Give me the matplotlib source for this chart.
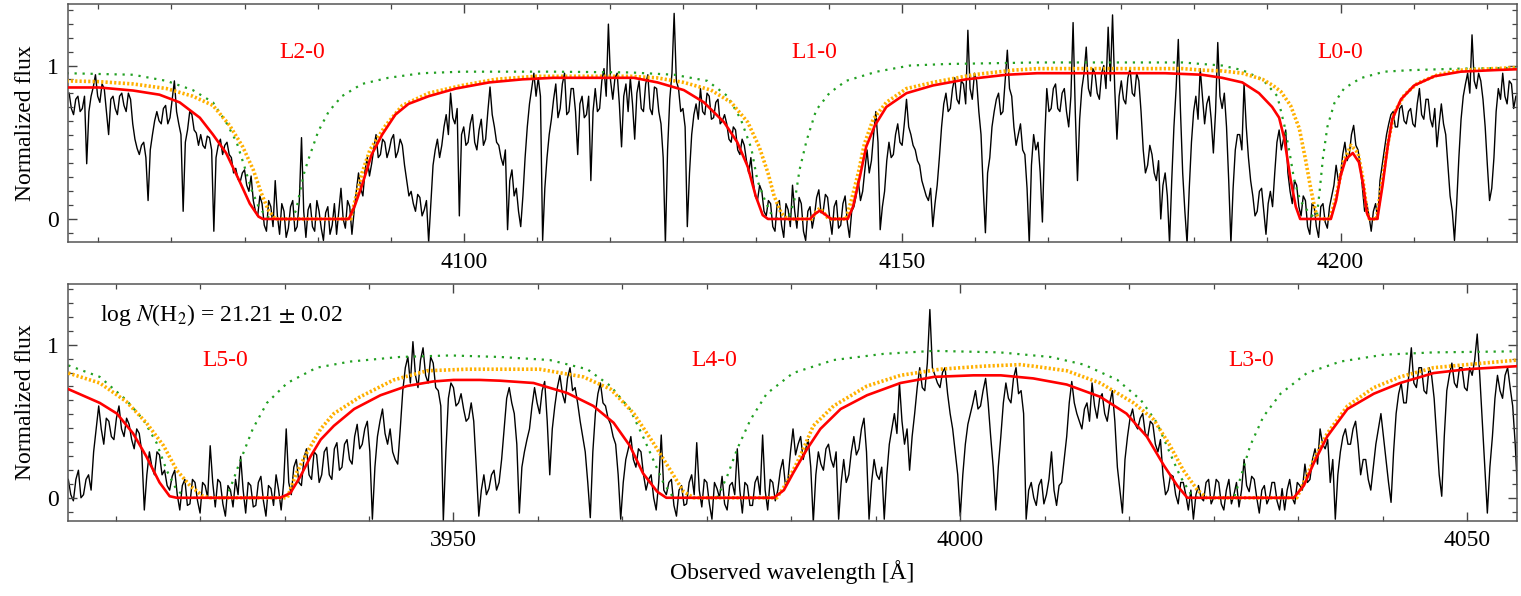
import numpy as np
import matplotlib
matplotlib.use("Agg")
import matplotlib.pyplot as plt
from matplotlib.ticker import MultipleLocator, FixedLocator

plt.rcParams['font.family'] = ['Liberation Serif', 'DejaVu Serif']
plt.rcParams['mathtext.fontset'] = 'stix'

# ---- observed spectrum ----
# *_flux: values at start + 0.5*i ; *_mid: values half way between them
top_start = 4055.0
bot_start = 3912.0
step = 0.5

top_flux = [
    0.82, 0.68, 0.80, 0.72, 0.36, 0.80, 0.94, 0.76, 0.85, 0.55,
    0.80, 0.68, 0.82, 0.70, 0.78, 0.52, 0.42, 0.50, 0.12, 0.55,
    0.70, 0.62, 0.74, 0.66, 0.90, 0.62, 0.05, 0.58, 0.68, 0.56,
    0.55, 0.46, 0.53, -0.08, 0.48, 0.42, 0.50, 0.40, 0.33, 0.24,
    0.32, 0.18, 0.12, 0.02, 0.10, -0.08, 0.08, 0.25, -0.10, 0.05,
    -0.06, 0.12, -0.05, 0.53, -0.12, 0.10, -0.08, 0.05, -0.14, 0.08,
    -0.04, -0.10, 0.20, -0.06, 0.08, 0.05, 0.30, 0.15, 0.40, 0.36,
    0.55, 0.42, 0.50, 0.45, 0.55, 0.44, 0.48, 0.25, 0.18, 0.05,
    0.14, 0.06, -0.15, 0.35, 0.52, 0.48, 0.68, 0.82, 0.62, 0.02,
    0.60, 0.50, 0.68, 0.45, 0.65, 0.52, 0.86, 0.60, 0.48, 0.35,
    -0.07, 0.32, 0.20, -0.05, 0.40, 0.75, 0.95, 0.92, -0.14, 0.40,
    0.65, 0.88, 0.72, 0.95, 0.70, 0.85, 0.42, 0.80, 0.68, 0.25,
    0.85, 0.72, 0.98, 1.27, 0.78, 0.95, 0.47, 0.88, 0.92, 0.52,
    0.90, 0.70, 0.94, 0.68, 0.85, 0.62, -0.16, 0.78, 1.34, 0.85,
    0.72, -0.05, 0.55, 0.75, 0.85, 0.68, 0.80, 0.66, 0.78, 0.64,
    0.62, 0.50, 0.58, 0.42, 0.48, 0.30, 0.25, 0.12, 0.18, 0.02,
    0.10, -0.08, 0.12, -0.12, 0.06, 0.22, -0.06, 0.10, -0.14, 0.08,
    0.02, 0.19, 0.05, 0.14, -0.10, 0.12, -0.04, 0.15, -0.12, 0.08,
    0.25, 0.18, 0.45, 0.38, 0.70, -0.07, 0.18, 0.50, 0.42, 0.62,
    0.48, 0.78, 0.55, 0.45, 0.35, 0.20, 0.12, -0.05, 0.22, 0.60,
    0.82, 0.72, 0.92, 0.75, 0.88, 1.23, 0.78, 0.90, 0.55, -0.09,
    0.40, 0.70, 0.82, 0.70, 1.10, 0.80, 0.48, 0.62, 0.42, -0.16,
    0.55, 0.50, -0.02, 0.85, 0.72, 0.88, 0.70, 0.85, 0.60, 1.28,
    0.25, 0.85, 1.12, 0.80, 0.95, 0.78, 1.00, 1.25, 1.33, 0.52,
    0.90, 0.75, 0.98, 0.80, 0.90, 0.45, 0.35, 0.42, 0.25, 0.00,
    0.30, -0.16, 0.60, 1.17, 0.30, -0.16, 0.50, 0.80, 0.98, 0.62,
    0.80, 0.43, 1.15, 0.72, 0.60, -0.16, 0.45, 0.55, 0.88, 0.40,
    0.15, 0.05, 0.20, -0.10, 0.18, 0.30, 0.58, 0.52, 0.30, 0.10,
    0.22, 0.02, 0.12, -0.10, 0.08, -0.12, 0.10, -0.06, 0.15, 0.35,
    0.28, 0.50, 0.42, 0.61, 0.45, 0.20, 0.10, -0.08, 0.10, 0.25,
    0.45, 0.62, 0.70, 0.60, 0.74, 0.62, 0.72, 0.60, 0.85, 0.65,
    0.78, 0.60, 0.47, 0.75, 0.55, 0.15, -0.14, 0.40, 0.80, 0.95,
    1.20, 0.85, 0.90, 0.60, 0.12, 0.40, 0.85, 0.95, 0.75, 0.88,
    0.80,
]
top_mid = [
    0.72, 0.78, 0.70, 0.80, 0.70, 0.86, 0.80, 0.88, 0.70, 0.78,
    0.72, 0.80, 0.74, 0.82, 0.62, 0.46, 0.48, 0.40, 0.45, 0.64,
    0.64, 0.72, 0.62, 0.78, 0.70, 0.55, 0.50, 0.70, 0.58, 0.48,
    0.48, 0.54, 0.45, 0.40, 0.52, 0.48, 0.42, 0.30, 0.26, 0.30,
    0.22, 0.28, 0.05, 0.15, -0.04, 0.12, -0.05, 0.02, 0.10, -0.12,
    0.08, -0.08, 0.12, 0.05, 0.06, -0.05, 0.12, -0.06, 0.04, -0.10,
    0.10, 0.05, 0.00, 0.12, -0.10, 0.18, 0.20, 0.32, 0.28, 0.46,
    0.40, 0.52, 0.40, 0.52, 0.40, 0.52, 0.35, 0.15, 0.10, 0.16,
    0.02, 0.12, 0.10, 0.45, 0.40, 0.60, 0.55, 0.66, 0.72, 0.55,
    0.48, 0.62, 0.50, 0.58, 0.48, 0.70, 0.68, 0.50, 0.40, 0.45,
    0.25, 0.15, 0.05, 0.15, 0.60, 0.85, 0.80, 0.80, 0.20, 0.55,
    0.78, 0.66, 0.88, 0.68, 0.85, 0.70, 0.75, 0.66, 0.80, 0.70,
    0.70, 0.90, 0.80, 0.90, 0.92, 0.75, 0.80, 0.70, 0.75, 0.82,
    0.72, 0.88, 0.72, 0.86, 0.70, 0.40, 0.45, 0.95, 0.90, 0.70,
    0.60, 0.30, 0.68, 0.65, 0.70, 0.82, 0.65, 0.76, 0.62, 0.68,
    0.52, 0.60, 0.45, 0.52, 0.38, 0.40, 0.15, 0.22, 0.05, 0.12,
    -0.05, 0.10, -0.04, 0.10, -0.05, 0.05, 0.14, -0.08, 0.05, -0.06,
    0.14, 0.04, 0.16, 0.00, 0.08, -0.06, 0.10, -0.02, 0.05, 0.15,
    0.12, 0.32, 0.30, 0.55, 0.50, 0.08, 0.38, 0.40, 0.55, 0.50,
    0.62, 0.60, 0.48, 0.38, 0.25, 0.15, 0.20, 0.10, 0.40, 0.75,
    0.70, 0.85, 0.78, 0.90, 0.75, 0.85, 0.95, 0.70, 0.20, 0.30,
    0.60, 0.78, 0.68, 0.90, 0.85, 0.60, 0.55, 0.45, 0.20, 0.35,
    0.45, 0.30, 0.50, 0.70, 0.85, 0.72, 0.82, 0.70, 0.80, 0.70,
    0.65, 0.95, 0.85, 0.98, 0.82, 0.95, 0.85, 0.90, 0.85, 0.80,
    0.78, 0.92, 0.82, 0.95, 0.70, 0.30, 0.48, 0.30, 0.38, 0.22,
    0.15, 0.25, 0.85, 0.70, 0.05, 0.20, 0.70, 0.65, 0.80, 0.75,
    0.65, 0.70, 0.80, 0.82, 0.25, 0.20, 0.55, 0.45, 0.60, 0.25,
    0.02, 0.18, 0.05, 0.10, 0.08, 0.50, 0.45, 0.58, 0.18, 0.25,
    0.08, 0.15, -0.05, 0.10, -0.05, 0.08, -0.02, 0.08, 0.22, 0.25,
    0.42, 0.38, 0.55, 0.48, 0.35, 0.05, 0.02, 0.05, 0.00, 0.35,
    0.55, 0.68, 0.60, 0.72, 0.64, 0.70, 0.62, 0.75, 0.68, 0.78,
    0.65, 0.72, 0.62, 0.62, 0.35, 0.05, 0.10, 0.65, 0.88, 0.82,
    0.90, 0.95, 0.78, 0.35, 0.20, 0.70, 0.78, 0.80, 0.90, 0.72,
]

bot_flux = [
    0.12, -0.02, 0.18, 0.02, 0.15, 0.30, 0.60, 0.35, 0.50, 0.38,
    0.60, 0.40, 0.48, 0.32, 0.42, -0.08, 0.30, 0.15, 0.28, 0.18,
    0.05, 0.18, -0.08, 0.12, -0.04, 0.10, -0.10, 0.08, 0.34, -0.06,
    0.10, -0.12, 0.05, 0.12, 0.27, -0.10, 0.08, -0.05, 0.14, -0.12,
    0.06, 0.15, -0.08, 0.45, 0.02, 0.25, 0.08, 0.32, 0.12, 0.28,
    0.15, 0.33, 0.12, 0.36, 0.20, 0.38, 0.22, 0.48, 0.35, 0.50,
    -0.14, 0.40, 0.58, 0.35, 0.30, 0.22, 0.70, 0.92, 1.02, 0.72,
    0.98, 0.75, 0.88, 0.70, -0.15, 0.65, 0.72, 0.62, 0.58, 0.52,
    0.50, -0.12, 0.15, 0.06, 0.18, 0.10, 0.45, 0.72, 0.55, -0.10,
    0.30, 0.45, 0.72, 0.55, 0.76, 0.15, 0.60, 0.80, 0.62, 0.85,
    0.72, 0.50, 0.30, -0.13, 0.55, 0.75, 0.60, 0.48, 0.35, -0.14,
    0.25, 0.40, 0.20, 0.30, 0.05, 0.15, -0.08, 0.41, 0.02, 0.12,
    -0.12, 0.08, -0.04, 0.15, 0.36, -0.06, 0.10, -0.14, 0.06, 0.14,
    -0.08, 0.10, 0.32, -0.10, 0.08, -0.05, 0.14, 0.41, -0.08, 0.10,
    0.05, 0.25, 0.12, 0.45, 0.35, 0.25, 0.38, -0.16, 0.30, 0.18,
    0.35, 0.20, -0.14, 0.25, 0.15, 0.40, 0.32, 0.52, -0.14, 0.25,
    0.12, -0.14, 0.35, 0.55, 0.75, 0.35, 0.18, 0.55, 0.85, 0.70,
    1.23, 0.80, 0.72, 0.85, 0.55, 0.30, -0.12, 0.35, 0.55, 0.70,
    0.60, 0.78, 0.40, -0.08, 0.40, 0.75, 0.62, 0.85, 0.70, -0.14,
    0.10, -0.05, 0.12, 0.02, 0.30, -0.05, 0.10, 0.40, 0.76, 0.55,
    0.45, 0.62, 0.75, 0.52, 0.68, 0.50, 0.70, 0.20, -0.10, 0.40,
    0.58, 0.45, 0.55, 0.40, 0.48, 0.30, 0.15, 0.05, 0.14, -0.04,
    0.10, -0.08, -0.14, 0.08, -0.02, 0.12, 0.00, 0.10, -0.08, 0.12,
    0.02, -0.06, 0.25, 0.04, 0.12, -0.10, 0.08, 0.00, 0.10, -0.08,
    -0.08, 0.12, -0.04, 0.08, 0.22, 0.12, 0.32, 0.45, 0.32, 0.10,
    -0.14, 0.30, 0.45, 0.35, 0.50, 0.15, 0.25, 0.05, 0.35, 0.55,
    0.25, -0.03, 0.55, 0.75, 0.62, 0.98, 0.72, 0.85, 0.68, 0.80,
    0.40, 0.01, 0.70, 0.88, 0.72, 0.85, 0.70, 0.80, 1.07, 0.50,
    -0.10, 0.40, 0.80, 0.65, 0.85, 0.60, 0.01,
]
bot_mid = [
    0.02, 0.12, 0.00, 0.12, 0.05, 0.45, 0.45, 0.52, 0.40, 0.52,
    0.45, 0.52, 0.38, 0.45, 0.30, 0.15, 0.20, 0.30, 0.15, 0.08,
    0.14, 0.02, 0.08, -0.05, 0.12, -0.02, 0.10, 0.00, 0.10, 0.12,
    -0.04, 0.08, -0.06, 0.02, 0.05, 0.10, -0.06, 0.10, -0.02, 0.08,
    -0.05, 0.05, 0.10, 0.10, 0.20, 0.10, 0.26, 0.15, 0.30, 0.10,
    0.30, 0.15, 0.32, 0.18, 0.35, 0.25, 0.40, 0.32, 0.45, 0.30,
    0.20, 0.50, 0.42, 0.45, 0.25, 0.45, 0.85, 0.75, 0.80, 0.90,
    0.80, 0.92, 0.72, 0.60, 0.30, 0.75, 0.60, 0.68, 0.50, 0.62,
    0.20, 0.05, 0.02, 0.15, 0.05, 0.25, 0.65, 0.62, 0.35, 0.20,
    0.38, 0.60, 0.62, 0.70, 0.50, 0.45, 0.72, 0.68, 0.78, 0.70,
    0.62, 0.40, 0.10, 0.30, 0.68, 0.62, 0.52, 0.40, 0.15, 0.10,
    0.32, 0.25, 0.32, 0.15, 0.12, 0.00, 0.10, 0.05, 0.10, -0.05,
    0.05, -0.05, 0.10, 0.02, 0.05, 0.12, -0.04, 0.10, 0.00, -0.04,
    0.08, 0.02, 0.05, 0.10, -0.05, 0.10, 0.02, 0.05, 0.12, -0.02,
    0.18, 0.08, 0.30, 0.28, 0.40, 0.32, 0.20, 0.15, 0.22, 0.32,
    0.25, 0.30, 0.10, 0.10, 0.30, 0.28, 0.45, 0.30, 0.10, 0.15,
    0.20, 0.15, 0.45, 0.42, 0.50, 0.45, 0.40, 0.72, 0.72, 0.88,
    0.85, 0.75, 0.82, 0.68, 0.45, 0.15, 0.15, 0.48, 0.62, 0.58,
    0.70, 0.62, 0.20, 0.20, 0.62, 0.65, 0.78, 0.68, 0.55, 0.05,
    0.00, 0.08, -0.04, 0.12, 0.05, 0.08, 0.25, 0.62, 0.62, 0.50,
    0.58, 0.50, 0.60, 0.65, 0.55, 0.62, 0.50, 0.05, 0.25, 0.52,
    0.48, 0.52, 0.42, 0.50, 0.35, 0.38, 0.02, 0.15, 0.02, 0.10,
    0.02, 0.05, 0.02, 0.00, 0.10, -0.04, 0.12, -0.04, 0.05, -0.04,
    0.10, 0.05, 0.08, 0.14, 0.00, 0.05, -0.04, 0.10, -0.02, 0.06,
    0.05, 0.00, 0.10, 0.05, 0.10, 0.25, 0.22, 0.35, 0.38, 0.25,
    0.15, 0.40, 0.35, 0.45, 0.35, 0.25, 0.12, 0.20, 0.45, 0.40,
    0.10, 0.30, 0.68, 0.62, 0.80, 0.75, 0.85, 0.70, 0.85, 0.65,
    0.15, 0.40, 0.80, 0.75, 0.85, 0.72, 0.85, 0.90, 0.80, 0.20,
    0.20, 0.65, 0.70, 0.80, 0.72, 0.35,
]

# ---- model profiles, top panel (L2-0, L1-0, L0-0) ----
red_top_wl = [4054.7, 4058.4, 4062.3, 4065.3, 4067.6, 4069.9, 4071.4, 4072.9, 4074.4, 4075.6,
              4076.6, 4077.1, 4086.9, 4087.6, 4088.4, 4089.5, 4090.7, 4092.2, 4093.7, 4096.0,
              4099.1, 4102.9, 4106.7, 4110.2, 4119.4, 4122.1, 4125.1, 4127.4, 4129.7, 4131.2,
              4132.4, 4133.3, 4134.1, 4134.7, 4139.5, 4140.0, 4140.6, 4141.2, 4141.9, 4143.8,
              4144.4, 4145.2, 4145.9, 4146.9, 4148.2, 4150.5, 4153.5, 4157.3, 4161.9, 4165.4,
              4180.0, 4184.2, 4186.5, 4188.8, 4190.7, 4192.2, 4193.0, 4193.6, 4194.3, 4194.9,
              4195.4, 4198.9, 4199.5, 4200.0, 4200.6, 4201.4, 4202.1, 4202.6, 4203.0, 4203.3,
              4204.2, 4204.8, 4205.4, 4205.9, 4206.9, 4208.4, 4210.7, 4213.7, 4217.5, 4220.2]
red_top_fl = [0.857, 0.857, 0.837, 0.81, 0.76, 0.66, 0.55, 0.43, 0.25, 0.10,
              0.015, 0.0, 0.0, 0.09, 0.22, 0.42, 0.55, 0.68, 0.75, 0.80,
              0.85, 0.89, 0.91, 0.92, 0.92, 0.89, 0.84, 0.76, 0.63, 0.50,
              0.34, 0.15, 0.025, 0.0, 0.0, 0.03, 0.054, 0.03, 0.0, 0.0,
              0.08, 0.28, 0.47, 0.61, 0.73, 0.82, 0.87, 0.91, 0.94, 0.95,
              0.95, 0.94, 0.92, 0.89, 0.82, 0.73, 0.66, 0.52, 0.26, 0.08,
              0.0, 0.0, 0.12, 0.28, 0.39, 0.43, 0.37, 0.22, 0.04, 0.0,
              0.0, 0.22, 0.48, 0.65, 0.78, 0.87, 0.93, 0.96, 0.97, 0.976]

orange_top_wl = [4054.7, 4058.4, 4062.3, 4066.1, 4069.1, 4071.4, 4073.3, 4074.8, 4076.0, 4076.9,
                 4077.7, 4078.5, 4087.1, 4087.6, 4088.4, 4089.3, 4091.1, 4093.0, 4096.0, 4099.8,
                 4103.6, 4108.2, 4119.0, 4122.0, 4125.1, 4128.2, 4130.5, 4132.4, 4133.7, 4134.7,
                 4135.4, 4136.2, 4136.9, 4139.7, 4140.1, 4140.6, 4141.1, 4141.6, 4143.6, 4144.2,
                 4145.0, 4145.7, 4146.7, 4148.2, 4150.5, 4153.5, 4158.1, 4162.7, 4165.4, 4182.0,
                 4184.2, 4186.5, 4188.8, 4191.1, 4192.3, 4193.2, 4194.3, 4195.3, 4196.0, 4196.6,
                 4197.1, 4197.4, 4197.7, 4198.8, 4199.6, 4200.3, 4201.2, 4202.0, 4202.5, 4203.0,
                 4203.3, 4204.1, 4204.6, 4205.4, 4206.1, 4207.3, 4208.8, 4211.1, 4213.7, 4217.5,
                 4220.2]
orange_top_fl = [0.90, 0.895, 0.88, 0.85, 0.80, 0.74, 0.61, 0.47, 0.32, 0.17,
                 0.06, 0.0, 0.0, 0.12, 0.30, 0.45, 0.61, 0.74, 0.82, 0.87,
                 0.91, 0.93, 0.93, 0.92, 0.89, 0.84, 0.76, 0.63, 0.47, 0.30,
                 0.15, 0.04, 0.0, 0.0, 0.04, 0.07, 0.04, 0.0, 0.0, 0.12,
                 0.30, 0.49, 0.65, 0.76, 0.85, 0.89, 0.94, 0.97, 0.98, 0.98,
                 0.97, 0.965, 0.95, 0.91, 0.87, 0.83, 0.74, 0.59, 0.39, 0.20,
                 0.06, 0.01, 0.0, 0.0, 0.17, 0.37, 0.48, 0.43, 0.28, 0.06,
                 0.0, 0.0, 0.19, 0.49, 0.69, 0.81, 0.885, 0.94, 0.97, 0.98,
                 0.987]

green_top_wl = [4054.7, 4058.4, 4062.3, 4066.1, 4069.1, 4071.4, 4072.9, 4074.1, 4075.0, 4075.8,
                4076.6, 4077.5, 4078.3, 4080.4, 4080.9, 4081.3, 4081.8, 4082.3, 4083.4, 4084.6,
                4086.1, 4088.4, 4091.4, 4095.2, 4099.8, 4110.2, 4119.0, 4124.0, 4127.8, 4130.1,
                4131.6, 4132.8, 4133.5, 4134.3, 4135.0, 4135.8, 4137.0, 4137.6, 4137.9, 4138.3,
                4139.1, 4140.2, 4141.7, 4143.6, 4147.1, 4150.9, 4155.1, 4165.4, 4182.0, 4184.2,
                4186.5, 4188.8, 4191.1, 4192.8, 4193.6, 4194.2, 4194.7, 4195.4, 4196.4, 4197.0,
                4197.3, 4197.6, 4198.0, 4198.5, 4199.3, 4200.4, 4202.3, 4205.0, 4208.0, 4213.7,
                4220.2]
green_top_fl = [0.95, 0.945, 0.94, 0.90, 0.84, 0.76, 0.63, 0.50, 0.34, 0.19,
                0.08, 0.015, 0.0, 0.0, 0.06, 0.17, 0.30, 0.39, 0.57, 0.70,
                0.80, 0.88, 0.92, 0.95, 0.96, 0.96, 0.955, 0.94, 0.90, 0.80,
                0.65, 0.46, 0.25, 0.13, 0.04, 0.0, 0.0, 0.10, 0.17, 0.32,
                0.51, 0.71, 0.82, 0.90, 0.96, 1.00, 1.01, 1.02, 1.02, 1.01,
                1.00, 0.97, 0.91, 0.80, 0.61, 0.43, 0.26, 0.12, 0.04, 0.01,
                0.02, 0.17, 0.40, 0.60, 0.755, 0.85, 0.918, 0.96, 0.97, 0.98,
                0.985]

# ---- model profiles, bottom panel (L5-0, L4-0, L3-0) ----
red_bot_wl = [3912.0, 3915.1, 3916.8, 3918.4, 3919.7, 3921.0, 3922.0, 3922.7, 3932.9, 3933.9,
              3934.9, 3935.9, 3936.9, 3938.2, 3940.2, 3942.8, 3945.4, 3948.0, 3950.0, 3952.6,
              3954.6, 3957.9, 3961.2, 3963.8, 3965.8, 3967.4, 3968.7, 3970.1, 3971.0, 3981.6,
              3982.6, 3983.5, 3984.9, 3986.2, 3988.2, 3990.8, 3994.1, 3997.4, 4001.3, 4004.0,
              4007.2, 4010.5, 4013.8, 4016.4, 4018.4, 4020.1, 4021.4, 4022.4, 4032.9, 4033.9,
              4034.9, 4036.2, 4038.2, 4040.8, 4043.4, 4046.7, 4050.0, 4055.0]
red_bot_fl = [0.71, 0.62, 0.55, 0.42, 0.27, 0.10, 0.01, 0.0, 0.0, 0.03,
              0.14, 0.27, 0.38, 0.47, 0.58, 0.67, 0.73, 0.76, 0.77, 0.77,
              0.765, 0.75, 0.685, 0.60, 0.49, 0.34, 0.16, 0.04, 0.0, 0.0,
              0.05, 0.16, 0.32, 0.45, 0.58, 0.67, 0.75, 0.79, 0.80, 0.80,
              0.78, 0.74, 0.66, 0.55, 0.40, 0.21, 0.08, 0.0, 0.0, 0.08,
              0.23, 0.40, 0.58, 0.68, 0.75, 0.815, 0.84, 0.86]

orange_bot_wl = [3912.0, 3915.1, 3917.7, 3919.7, 3921.4, 3922.7, 3924.0, 3925.3, 3926.0, 3933.6,
                 3934.5, 3935.5, 3936.9, 3938.2, 3940.8, 3944.1, 3947.4, 3951.3, 3954.6, 3958.5,
                 3962.8, 3965.5, 3967.8, 3969.7, 3971.4, 3972.7, 3973.7, 3981.9, 3982.9, 3984.2,
                 3985.5, 3987.5, 3990.8, 3994.1, 3998.0, 4002.3, 4005.9, 4007.2, 4010.5, 4013.8,
                 4017.1, 4019.1, 4020.7, 4022.0, 4023.4, 4024.3, 4033.2, 4033.9, 4034.9, 4036.2,
                 4038.2, 4040.8, 4043.4, 4046.7, 4051.6, 4055.0]
orange_bot_fl = [0.815, 0.75, 0.63, 0.49, 0.34, 0.18, 0.08, 0.01, 0.0, 0.0,
                 0.16, 0.29, 0.45, 0.55, 0.66, 0.77, 0.83, 0.84, 0.84, 0.84,
                 0.79, 0.71, 0.55, 0.36, 0.18, 0.04, 0.0, 0.0, 0.10, 0.27,
                 0.47, 0.60, 0.73, 0.80, 0.84, 0.86, 0.87, 0.86, 0.83, 0.75,
                 0.62, 0.51, 0.34, 0.18, 0.05, 0.0, 0.0, 0.10, 0.25, 0.42,
                 0.60, 0.72, 0.79, 0.85, 0.88, 0.90]

green_bot_wl = [3912.0, 3915.1, 3917.7, 3919.4, 3920.7, 3921.7, 3922.7, 3923.7, 3927.6, 3928.3,
                3928.9, 3930.2, 3931.6, 3933.6, 3936.5, 3939.8, 3944.7, 3949.7, 3954.6, 3959.5,
                3963.2, 3965.5, 3967.4, 3968.7, 3969.7, 3970.7, 3971.7, 3976.0, 3977.0, 3978.0,
                3979.3, 3980.9, 3983.5, 3987.5, 3992.4, 3997.4, 4003.9, 4008.9, 4012.2, 4015.5,
                4017.8, 4019.4, 4020.7, 4021.7, 4022.7, 4023.4, 4027.0, 4027.6, 4028.6, 4029.9,
                4031.6, 4034.2, 4037.5, 4041.8, 4046.7, 4055.0]
green_bot_fl = [0.865, 0.79, 0.64, 0.51, 0.36, 0.18, 0.05, 0.0, 0.0, 0.12,
                0.23, 0.45, 0.62, 0.75, 0.85, 0.89, 0.92, 0.93, 0.92, 0.90,
                0.84, 0.73, 0.58, 0.40, 0.25, 0.10, 0.0, 0.0, 0.14, 0.32,
                0.51, 0.68, 0.815, 0.90, 0.94, 0.96, 0.95, 0.92, 0.87, 0.77,
                0.64, 0.49, 0.29, 0.14, 0.03, 0.0, 0.0, 0.12, 0.34, 0.53,
                0.68, 0.815, 0.89, 0.935, 0.95, 0.957]

top_bands = ["L2-0", "L1-0", "L0-0"]
top_band_wl = [4081.6, 4140.0, 4200.0]
bot_bands = ["L5-0", "L4-0", "L3-0"]
bot_band_wl = [3927.5, 3975.7, 4028.7]

top_xlim = (4054.9, 4220.1)
bot_xlim = (3912.0, 4054.9)

RED = '#ff0000'
ORANGE = '#ffb000'
GREEN = '#22a022'
FS = 17

fig = plt.figure(figsize=(15.21, 5.96), dpi=100)
ax1 = fig.add_axes([0.0449, 0.594, 0.9523, 0.399])
ax2 = fig.add_axes([0.0449, 0.1263, 0.9523, 0.398])


def interleave(main, mid):
    out = np.empty(len(main) + len(mid))
    out[0::2] = main
    out[1::2] = mid
    return out


def panel(ax, start, flux, mid, red, orange, green, bands, band_wl, band_y, xlim):
    fl = interleave(flux, mid)
    wl = start + step / 2 * np.arange(len(fl))
    ax.plot(wl, fl, color='black', lw=1.0, zorder=1)
    ax.plot(green[0], green[1], color=GREEN, lw=1.6, ls=(0, (1, 2.6)), zorder=2)
    ax.plot(orange[0], orange[1], color=ORANGE, lw=2.6, ls=(0, (0.6, 0.6)), zorder=3)
    ax.plot(red[0], red[1], color=RED, lw=1.9, zorder=4)
    for name, x in zip(bands, band_wl):
        ax.text(x, band_y, name, color=RED, fontsize=FS, ha='center', va='center')
    ax.set_xlim(*xlim)
    ax.set_ylim(-0.15, 1.40)
    ax.xaxis.set_major_locator(MultipleLocator(50))
    ax.xaxis.set_minor_locator(MultipleLocator(50 / 6))
    ax.yaxis.set_major_locator(FixedLocator([0, 1]))
    ax.yaxis.set_minor_locator(MultipleLocator(1 / 11))
    ax.tick_params(which='both', direction='in', top=True, right=True,
                   labelsize=FS, color='#444444')
    ax.tick_params(which='major', length=6.5, width=1.0, pad=7)
    ax.tick_params(which='minor', length=3.3, width=0.9)
    for s in ax.spines.values():
        s.set_color('#555555')
        s.set_linewidth(1.1)
    ax.set_ylabel('Normalized flux', fontsize=FS, labelpad=8)


panel(ax1, top_start, top_flux, top_mid, (red_top_wl, red_top_fl), (orange_top_wl, orange_top_fl),
      (green_top_wl, green_top_fl), top_bands, top_band_wl, 1.083, top_xlim)
panel(ax2, bot_start, bot_flux, bot_mid, (red_bot_wl, red_bot_fl), (orange_bot_wl, orange_bot_fl),
      (green_bot_wl, green_bot_fl), bot_bands, bot_band_wl, 0.90, bot_xlim)

ax2.text(3915.1, 1.196, r'log $N$(H$_2$) = 21.21 $\pm$ 0.02', fontsize=FS,
         ha='left', va='center')
ax2.set_xlabel('Observed wavelength [Å]', fontsize=FS, labelpad=6)

fig.savefig('out.png', dpi=100)
